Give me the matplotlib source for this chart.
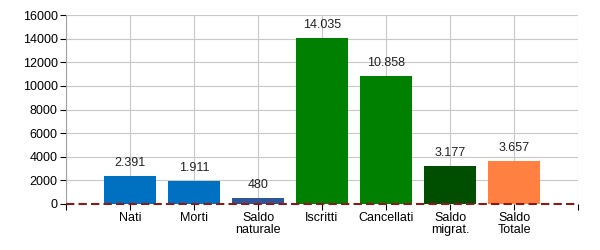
import numpy as np
import matplotlib.pyplot as plt

# bilancio demografico

categories = ['Nati', 'Morti', 'Saldo\nnaturale', 'Iscritti', 'Cancellati', 'Saldo\nmigrat.', 'Saldo\nTotale']
values = [2391, 1911, 480, 14035, 10858, 3177, 3657]
labels = ['2.391', '1.911', '480', '14.035', '10.858', '3.177', '3.657']
colors = ['#0070C0', '#0070C0', '#2E5597', '#008000', '#008000', '#004F00', '#FF8040']


def save_and_show_result():
    plt.rcParams['font.family'] = ['Liberation Sans', 'DejaVu Sans']
    plt.rcParams['font.size'] = 9

    fig = plt.figure(figsize=(6, 2.5), dpi=100)
    ax = fig.add_axes([66 / 600, 46 / 250, 512 / 600, 189 / 250])

    x = np.arange(1, len(values) + 1)
    ax.bar(x, values, width=0.8, color=colors, zorder=2)
    for xi, v, lab in zip(x, values, labels):
        ax.text(xi, v + 600, lab, ha='center', va='bottom', color='#222222')

    ax.set_xlim(0, len(values) + 1)
    ax.set_ylim(0, 16000)
    ax.set_yticks(np.arange(0, 16001, 2000))
    ax.set_xticks(np.arange(0, len(values) + 2))
    ax.set_xticklabels([''] + categories + [''], linespacing=1.0)

    ax.grid(True, color='#c8c8c8', linewidth=0.8, zorder=0)
    for s in ['top', 'right', 'bottom']:
        ax.spines[s].set_visible(False)
    ax.spines['left'].set_color('#a0a0a0')
    ax.axhline(0, color='#8B1A1A', linestyle='--', linewidth=1.5, dashes=(4, 2),
               zorder=3, clip_on=False)
    ax.tick_params(axis='both', length=4, color='black', pad=2)

    plt.savefig('out.png')


def main():
    save_and_show_result()


if __name__ == '__main__':
    main()
